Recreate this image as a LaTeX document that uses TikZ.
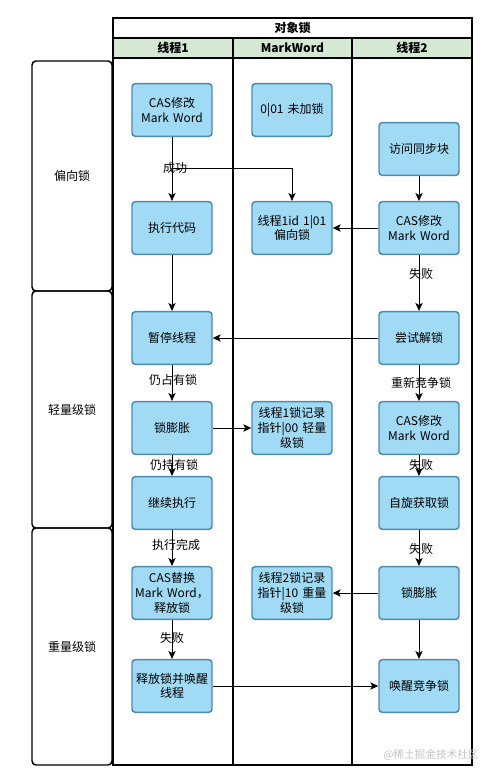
\documentclass[tikz,border=0pt]{standalone}
\usepackage{fontspec}
\setmainfont{Noto Sans CJK SC}
\usetikzlibrary{arrows.meta}
\definecolor{nodefill}{HTML}{A0DAF4}
\definecolor{nodedraw}{HTML}{4A8BAE}
\definecolor{hdrgreen}{HTML}{D5E8D4}
\definecolor{wm}{HTML}{C4C4C4}
\begin{document}
\begin{tikzpicture}[x=0.75pt,y=-0.75pt,
  box/.style={draw=nodedraw,fill=nodefill,line width=1.1pt,rounded corners=2.5pt,
    minimum width=60pt,minimum height=39.5pt,text width=58pt,align=center,
    inner sep=0pt,font=\fontsize{9}{11}\selectfont},
  lane/.style={draw=black,line width=1.1pt,rounded corners=3pt,inner sep=0pt,
    font=\fontsize{9}{11}\selectfont},
  arr/.style={draw=black,line width=0.75pt,-{Stealth[length=6pt,width=5.5pt,inset=1.5pt]}},
  lbl/.style={font=\fontsize{9}{11}\selectfont,inner sep=0pt},
  tbl/.style={draw=black,line width=1.1pt}]
\useasboundingbox (0,0) rectangle (493,777);
% table
\path[fill=hdrgreen] (113,38) rectangle (472,58);
\draw[tbl] (113,18) rectangle (472,765);
\draw[tbl] (113,38) -- (472,38);
\draw[tbl] (113,58) -- (472,58);
\draw[tbl] (233,38) -- (233,765);
\draw[tbl] (352,38) -- (352,765);
\node[font=\fontsize{9}{11}\selectfont\bfseries] (title) at (292.5,28) {对象锁};
\node[font=\fontsize{9}{11}\selectfont\bfseries] (h1) at (173,48) {线程1};
\node[font=\fontsize{9}{11}\selectfont\bfseries] (h2) at (292.5,48) {MarkWord};
\node[font=\fontsize{9}{11}\selectfont\bfseries] (h3) at (412,48) {线程2};
% lanes
\node[lane,minimum width=60pt,minimum height=172.5pt] (L1) at (72,176) {偏向锁};
\node[lane,minimum width=60pt,minimum height=177.75pt] (L2) at (72,409.5) {轻量级锁};
\node[lane,minimum width=60pt,minimum height=177.75pt] (L3) at (72,646.5) {重量级锁};
% column 1
\node[box] (a1) at (172,110) {CAS修改\\Mark Word};
\node[box] (a2) at (172,228) {执行代码};
\node[box] (a3) at (172,338) {暂停线程};
\node[box] (a4) at (172,428) {锁膨胀};
\node[box] (a5) at (172,503) {继续执行};
\node[box] (a6) at (172,593) {CAS替换\\Mark Word，\\释放锁};
\node[box] (a7) at (172,686) {释放锁并唤醒\\线程};
% column 2
\node[box] (b1) at (292,110) {0|01 未加锁};
\node[box] (b2) at (292,228) {线程1id 1|01\\偏向锁};
\node[box] (b3) at (292,428) {线程1锁记录\\指针|00 轻量\\级锁};
\node[box] (b4) at (292,593) {线程2锁记录\\指针|10 重量\\级锁};
% column 3
\node[box] (c0) at (419,149) {访问同步块};
\node[box] (c1) at (419,228) {CAS修改\\Mark Word};
\node[box] (c2) at (419,338) {尝试解锁};
\node[box] (c3) at (419,428) {CAS修改\\Mark Word};
\node[box] (c4) at (419,503) {自旋获取锁};
\node[box] (c5) at (419,593) {锁膨胀};
\node[box] (c6) at (419,686) {唤醒竞争锁};
% edges
\coordinate (sb) at (172,169);
\draw[arr] (a1) -- (a2);
\draw[arr] (a1.south) -- (sb) -| (b2.north);
\node[lbl] (l1) at (175,168) {成功};
\draw[arr] (c0) -- (c1);
\draw[arr] (c1) -- (b2);
\draw[arr] (a2) -- (a3);
\draw[arr] (c1) -- (c2);
\node[lbl] (l2) at (421,274) {失败};
\draw[arr] (c2) -- (a3);
\draw[arr] (a3) -- (a4);
\node[lbl] (l3) at (173,380) {仍占有锁};
\draw[arr] (c2) -- (c3);
\node[lbl] (l4) at (421,383) {重新竞争锁};
\draw[arr] (a4) -- (b3);
\draw[arr] (a4) -- (a5);
\node[lbl] (l5) at (174,465) {仍持有锁};
\draw[arr] (c3) -- (c4);
\node[lbl] (l6) at (421,465) {失败};
\draw[arr] (a5) -- (a6);
\node[lbl] (l7) at (176,545) {执行完成};
\draw[arr] (c4) -- (c5);
\node[lbl] (l8) at (421,549) {失败};
\draw[arr] (c5) -- (b4);
\draw[arr] (a6) -- (a7);
\node[lbl] (l9) at (172,638) {失败};
\draw[arr] (c5) -- (c6);
\draw[arr] (a7) -- (c6);
% watermark
\node[font=\fontsize{8}{10}\selectfont,text=wm] (wm) at (431,755) {@稀土掘金技术社区};
\end{tikzpicture}
\end{document}
